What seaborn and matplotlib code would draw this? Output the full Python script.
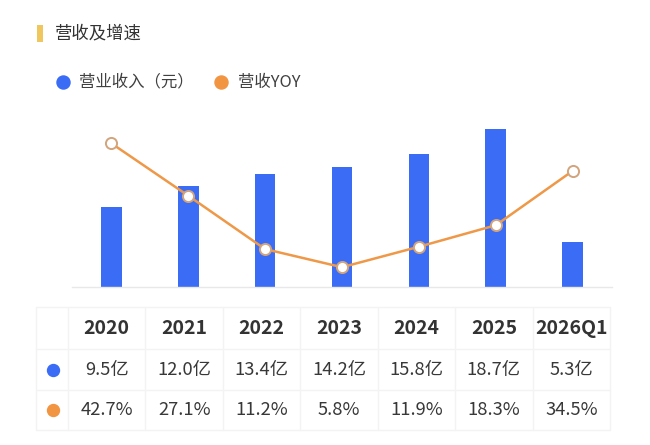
import numpy as np
import pandas as pd
import matplotlib
matplotlib.use('Agg')
import matplotlib.pyplot as plt
import seaborn as sns
from matplotlib.patches import Rectangle

# ---- data ----
categories = ['2020', '2021', '2022', '2023', '2024', '2025', '2026Q1']
revenue = [9.5, 12.0, 13.4, 14.2, 15.8, 18.7, 5.3]      # 亿元
yoy = [42.7, 27.1, 11.2, 5.8, 11.9, 18.3, 34.5]          # %
revenue_labels = [f'{v:.1f}亿' for v in revenue]
yoy_labels = [f'{v:.1f}%' for v in yoy]
title_text = '营收及增速'
legend_rev = '营业收入（元）'
legend_yoy = '营收YOY'

BLUE = '#3B6CF6'
ORANGE = '#F29543'
LINE = '#EE9848'
EDGE = '#D2A47C'
TXT = '#333333'
GRID = '#F3F3F3'

sns.set_theme(style='white')
plt.rcParams['font.family'] = ['Noto Sans CJK SC', 'DejaVu Sans']

W, H = 650, 445
fig = plt.figure(figsize=(W / 100, H / 100), dpi=100)
fig.patch.set_facecolor('white')

# ---- chart ----
ax = fig.add_axes([72 / W, 1 - 286.7 / H, 540 / W, 176.7 / H])
df = pd.DataFrame({'cat': categories, 'rev': revenue, 'yoy': yoy})
sns.barplot(data=df, x='cat', y='rev', ax=ax, color=BLUE, width=0.27,
            saturation=1, edgecolor='none')
ax.set_ylim(0, 21)
ax.set_xlim(-0.51, 6.51)
ax2 = ax.twinx()
sns.lineplot(x=np.arange(len(categories)), y=yoy, ax=ax2, color=LINE, lw=1.8,
             marker='o', markersize=8, markerfacecolor='white',
             markeredgecolor=EDGE, markeredgewidth=1.4)
ax2.set_ylim(0, 52.6)
ax2.set_xlim(-0.51, 6.51)
for a in (ax, ax2):
    a.set_xlabel('')
    a.set_ylabel('')
    a.set_xticks([])
    a.set_yticks([])
    for s in a.spines.values():
        s.set_visible(False)
    a.set_facecolor('none')
ax.spines['bottom'].set_visible(True)
ax.spines['bottom'].set_color('#E8E8E8')
ax.spines['bottom'].set_linewidth(1)

# ---- overlay for title, legend and table ----
ov = fig.add_axes([0, 0, 1, 1], zorder=-1)
ov.set_xlim(0, W)
ov.set_ylim(H, 0)
ov.axis('off')

ov.add_patch(Rectangle((37, 25), 5.5, 17, color='#F0C75E', lw=0))
ov.text(55, 33.5, title_text, fontsize=12.5, color=TXT, va='center', ha='left')

ov.plot([63], [82], 'o', color=BLUE, markersize=9.4)
ov.text(79, 82, legend_rev, fontsize=11.8, color='#404040', va='center', ha='left')
ov.plot([221], [82], 'o', color=ORANGE, markersize=9.4)
ov.text(238, 82, legend_yoy, fontsize=11.8, color='#404040', va='center', ha='left')

# table
row_lines = [307, 349, 390, 430]
col_w = (610 - 68) / len(categories)
col_lines = [36, 68] + [68 + col_w * (k + 1) for k in range(len(categories))]
for y in row_lines:
    ov.plot([36, 610], [y, y], color=GRID, lw=1)
for x in col_lines:
    ov.plot([x, x], [307, 430], color=GRID, lw=1)

centers = [68 + col_w * (k + 0.5) for k in range(len(categories))]
for cx, c, r, g in zip(centers, categories, revenue_labels, yoy_labels):
    ov.text(cx, 329, c, fontsize=14, fontweight='bold', color=TXT, ha='center', va='center')
    ov.text(cx, 369.5, r, fontsize=13.2, color='#383838', ha='center', va='center')
    ov.text(cx, 410, g, fontsize=13.2, color='#383838', ha='center', va='center')
ov.plot([53], [369.5], 'o', color=BLUE, markersize=8.6)
ov.plot([53], [410], 'o', color=ORANGE, markersize=8.6)

fig.savefig('out.png', dpi=100, facecolor='white')
